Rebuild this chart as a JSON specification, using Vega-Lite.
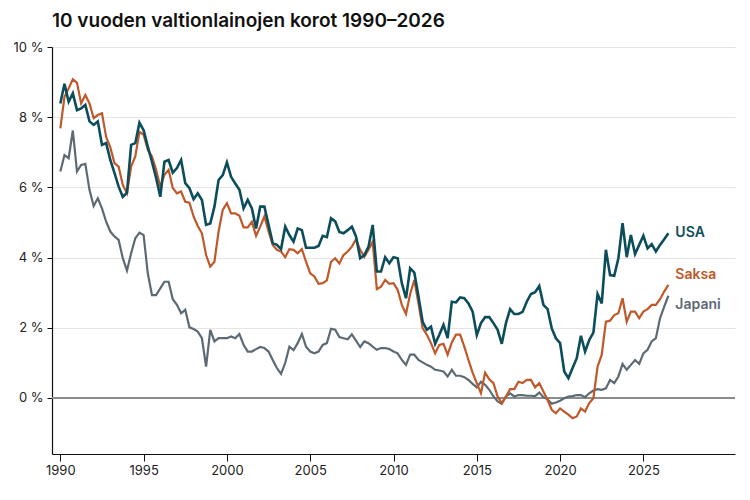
{
  "$schema": "https://vega.github.io/schema/vega-lite/v6.json",
  "description": "10 vuoden valtionlainojen korot, neljännesvuosittain: USA, Saksa ja Japani",
  "width": 683,
  "height": 407,
  "autosize": {"type": "none"},
  "padding": {"left": 52, "top": 47, "right": 15, "bottom": 46},
  "title": {
    "text": "10 vuoden valtionlainojen korot 1990–2026",
    "anchor": "start",
    "frame": "group",
    "font": "Inter",
    "fontSize": 19,
    "fontWeight": 600,
    "color": "#111111",
    "offset": 10
  },
  "config": {
    "view": {"stroke": null},
    "font": "Inter",
    "axis": {
      "labelFont": "Inter",
      "labelFontSize": 13,
      "labelColor": "#222222",
      "domainColor": "#111111",
      "domainWidth": 1.2,
      "tickColor": "#111111"
    }
  },
  "data": {
    "values": [
      {"maa": "USA", "vuosi": 1990, "korko": 8.39}, {"maa": "USA", "vuosi": 1990.25, "korko": 8.95}, {"maa": "USA", "vuosi": 1990.5, "korko": 8.44}, {"maa": "USA", "vuosi": 1990.75, "korko": 8.68},
      {"maa": "USA", "vuosi": 1991, "korko": 8.20}, {"maa": "USA", "vuosi": 1991.25, "korko": 8.25}, {"maa": "USA", "vuosi": 1991.5, "korko": 8.35}, {"maa": "USA", "vuosi": 1991.75, "korko": 7.88},
      {"maa": "USA", "vuosi": 1992, "korko": 7.78}, {"maa": "USA", "vuosi": 1992.25, "korko": 7.88}, {"maa": "USA", "vuosi": 1992.5, "korko": 7.21}, {"maa": "USA", "vuosi": 1992.75, "korko": 7.26},
      {"maa": "USA", "vuosi": 1993, "korko": 6.78}, {"maa": "USA", "vuosi": 1993.25, "korko": 6.41}, {"maa": "USA", "vuosi": 1993.5, "korko": 6.02}, {"maa": "USA", "vuosi": 1993.75, "korko": 5.73},
      {"maa": "USA", "vuosi": 1994, "korko": 5.85}, {"maa": "USA", "vuosi": 1994.25, "korko": 7.21}, {"maa": "USA", "vuosi": 1994.5, "korko": 7.26}, {"maa": "USA", "vuosi": 1994.75, "korko": 7.84},
      {"maa": "USA", "vuosi": 1995, "korko": 7.63}, {"maa": "USA", "vuosi": 1995.25, "korko": 7.16}, {"maa": "USA", "vuosi": 1995.5, "korko": 6.73}, {"maa": "USA", "vuosi": 1995.75, "korko": 6.27},
      {"maa": "USA", "vuosi": 1996, "korko": 5.73}, {"maa": "USA", "vuosi": 1996.25, "korko": 6.73}, {"maa": "USA", "vuosi": 1996.5, "korko": 6.78}, {"maa": "USA", "vuosi": 1996.75, "korko": 6.42},
      {"maa": "USA", "vuosi": 1997, "korko": 6.55}, {"maa": "USA", "vuosi": 1997.25, "korko": 6.78}, {"maa": "USA", "vuosi": 1997.5, "korko": 6.12}, {"maa": "USA", "vuosi": 1997.75, "korko": 5.98},
      {"maa": "USA", "vuosi": 1998, "korko": 5.66}, {"maa": "USA", "vuosi": 1998.25, "korko": 5.83}, {"maa": "USA", "vuosi": 1998.5, "korko": 5.64}, {"maa": "USA", "vuosi": 1998.75, "korko": 4.93},
      {"maa": "USA", "vuosi": 1999, "korko": 4.97}, {"maa": "USA", "vuosi": 1999.25, "korko": 5.45}, {"maa": "USA", "vuosi": 1999.5, "korko": 6.21}, {"maa": "USA", "vuosi": 1999.75, "korko": 6.35},
      {"maa": "USA", "vuosi": 2000, "korko": 6.71}, {"maa": "USA", "vuosi": 2000.25, "korko": 6.30}, {"maa": "USA", "vuosi": 2000.5, "korko": 6.11}, {"maa": "USA", "vuosi": 2000.75, "korko": 5.93},
      {"maa": "USA", "vuosi": 2001, "korko": 5.40}, {"maa": "USA", "vuosi": 2001.25, "korko": 5.64}, {"maa": "USA", "vuosi": 2001.5, "korko": 5.40}, {"maa": "USA", "vuosi": 2001.75, "korko": 4.83},
      {"maa": "USA", "vuosi": 2002, "korko": 5.45}, {"maa": "USA", "vuosi": 2002.25, "korko": 5.45}, {"maa": "USA", "vuosi": 2002.5, "korko": 4.93}, {"maa": "USA", "vuosi": 2002.75, "korko": 4.41},
      {"maa": "USA", "vuosi": 2003, "korko": 4.36}, {"maa": "USA", "vuosi": 2003.25, "korko": 4.24}, {"maa": "USA", "vuosi": 2003.5, "korko": 4.88}, {"maa": "USA", "vuosi": 2003.75, "korko": 4.64},
      {"maa": "USA", "vuosi": 2004, "korko": 4.45}, {"maa": "USA", "vuosi": 2004.25, "korko": 4.83}, {"maa": "USA", "vuosi": 2004.5, "korko": 4.78}, {"maa": "USA", "vuosi": 2004.75, "korko": 4.28},
      {"maa": "USA", "vuosi": 2005, "korko": 4.28}, {"maa": "USA", "vuosi": 2005.25, "korko": 4.28}, {"maa": "USA", "vuosi": 2005.5, "korko": 4.33}, {"maa": "USA", "vuosi": 2005.75, "korko": 4.62},
      {"maa": "USA", "vuosi": 2006, "korko": 4.58}, {"maa": "USA", "vuosi": 2006.25, "korko": 5.12}, {"maa": "USA", "vuosi": 2006.5, "korko": 5.03}, {"maa": "USA", "vuosi": 2006.75, "korko": 4.73},
      {"maa": "USA", "vuosi": 2007, "korko": 4.69}, {"maa": "USA", "vuosi": 2007.25, "korko": 4.78}, {"maa": "USA", "vuosi": 2007.5, "korko": 4.88}, {"maa": "USA", "vuosi": 2007.75, "korko": 4.60},
      {"maa": "USA", "vuosi": 2008, "korko": 3.98}, {"maa": "USA", "vuosi": 2008.25, "korko": 4.07}, {"maa": "USA", "vuosi": 2008.5, "korko": 4.31}, {"maa": "USA", "vuosi": 2008.75, "korko": 4.93},
      {"maa": "USA", "vuosi": 2009, "korko": 3.60}, {"maa": "USA", "vuosi": 2009.25, "korko": 3.60}, {"maa": "USA", "vuosi": 2009.5, "korko": 4.01}, {"maa": "USA", "vuosi": 2009.75, "korko": 3.84},
      {"maa": "USA", "vuosi": 2010, "korko": 4.01}, {"maa": "USA", "vuosi": 2010.25, "korko": 3.98}, {"maa": "USA", "vuosi": 2010.5, "korko": 3.27}, {"maa": "USA", "vuosi": 2010.75, "korko": 2.84},
      {"maa": "USA", "vuosi": 2011, "korko": 3.69}, {"maa": "USA", "vuosi": 2011.25, "korko": 3.57}, {"maa": "USA", "vuosi": 2011.5, "korko": 2.89}, {"maa": "USA", "vuosi": 2011.75, "korko": 2.17},
      {"maa": "USA", "vuosi": 2012, "korko": 1.94}, {"maa": "USA", "vuosi": 2012.25, "korko": 2.03}, {"maa": "USA", "vuosi": 2012.5, "korko": 1.54}, {"maa": "USA", "vuosi": 2012.75, "korko": 1.80},
      {"maa": "USA", "vuosi": 2013, "korko": 2.08}, {"maa": "USA", "vuosi": 2013.25, "korko": 1.70}, {"maa": "USA", "vuosi": 2013.5, "korko": 2.74}, {"maa": "USA", "vuosi": 2013.75, "korko": 2.72},
      {"maa": "USA", "vuosi": 2014, "korko": 2.86}, {"maa": "USA", "vuosi": 2014.25, "korko": 2.84}, {"maa": "USA", "vuosi": 2014.5, "korko": 2.69}, {"maa": "USA", "vuosi": 2014.75, "korko": 2.46},
      {"maa": "USA", "vuosi": 2015, "korko": 1.79}, {"maa": "USA", "vuosi": 2015.25, "korko": 2.13}, {"maa": "USA", "vuosi": 2015.5, "korko": 2.30}, {"maa": "USA", "vuosi": 2015.75, "korko": 2.30},
      {"maa": "USA", "vuosi": 2016, "korko": 2.13}, {"maa": "USA", "vuosi": 2016.25, "korko": 1.94}, {"maa": "USA", "vuosi": 2016.5, "korko": 1.54}, {"maa": "USA", "vuosi": 2016.75, "korko": 2.13},
      {"maa": "USA", "vuosi": 2017, "korko": 2.53}, {"maa": "USA", "vuosi": 2017.25, "korko": 2.39}, {"maa": "USA", "vuosi": 2017.5, "korko": 2.39}, {"maa": "USA", "vuosi": 2017.75, "korko": 2.45},
      {"maa": "USA", "vuosi": 2018, "korko": 2.74}, {"maa": "USA", "vuosi": 2018.25, "korko": 2.96}, {"maa": "USA", "vuosi": 2018.5, "korko": 3.01}, {"maa": "USA", "vuosi": 2018.75, "korko": 3.19},
      {"maa": "USA", "vuosi": 2019, "korko": 2.65}, {"maa": "USA", "vuosi": 2019.25, "korko": 2.53}, {"maa": "USA", "vuosi": 2019.5, "korko": 1.98}, {"maa": "USA", "vuosi": 2019.75, "korko": 1.70},
      {"maa": "USA", "vuosi": 2020, "korko": 1.56}, {"maa": "USA", "vuosi": 2020.25, "korko": 0.75}, {"maa": "USA", "vuosi": 2020.5, "korko": 0.56}, {"maa": "USA", "vuosi": 2020.75, "korko": 0.85},
      {"maa": "USA", "vuosi": 2021, "korko": 1.13}, {"maa": "USA", "vuosi": 2021.25, "korko": 1.77}, {"maa": "USA", "vuosi": 2021.5, "korko": 1.32}, {"maa": "USA", "vuosi": 2021.75, "korko": 1.65},
      {"maa": "USA", "vuosi": 2022, "korko": 1.86}, {"maa": "USA", "vuosi": 2022.25, "korko": 2.96}, {"maa": "USA", "vuosi": 2022.5, "korko": 2.69}, {"maa": "USA", "vuosi": 2022.75, "korko": 4.22},
      {"maa": "USA", "vuosi": 2023, "korko": 3.50}, {"maa": "USA", "vuosi": 2023.25, "korko": 3.48}, {"maa": "USA", "vuosi": 2023.5, "korko": 3.98}, {"maa": "USA", "vuosi": 2023.75, "korko": 4.98},
      {"maa": "USA", "vuosi": 2024, "korko": 4.01}, {"maa": "USA", "vuosi": 2024.25, "korko": 4.64}, {"maa": "USA", "vuosi": 2024.5, "korko": 4.10}, {"maa": "USA", "vuosi": 2024.75, "korko": 4.36},
      {"maa": "USA", "vuosi": 2025, "korko": 4.62}, {"maa": "USA", "vuosi": 2025.25, "korko": 4.26}, {"maa": "USA", "vuosi": 2025.5, "korko": 4.38}, {"maa": "USA", "vuosi": 2025.75, "korko": 4.17},
      {"maa": "USA", "vuosi": 2026, "korko": 4.36}, {"maa": "USA", "vuosi": 2026.25, "korko": 4.52}, {"maa": "USA", "vuosi": 2026.5, "korko": 4.69},

      {"maa": "Saksa", "vuosi": 1990, "korko": 7.68}, {"maa": "Saksa", "vuosi": 1990.25, "korko": 8.58}, {"maa": "Saksa", "vuosi": 1990.5, "korko": 8.82}, {"maa": "Saksa", "vuosi": 1990.75, "korko": 9.08},
      {"maa": "Saksa", "vuosi": 1991, "korko": 8.98}, {"maa": "Saksa", "vuosi": 1991.25, "korko": 8.39}, {"maa": "Saksa", "vuosi": 1991.5, "korko": 8.63}, {"maa": "Saksa", "vuosi": 1991.75, "korko": 8.39},
      {"maa": "Saksa", "vuosi": 1992, "korko": 7.97}, {"maa": "Saksa", "vuosi": 1992.25, "korko": 8.06}, {"maa": "Saksa", "vuosi": 1992.5, "korko": 8.11}, {"maa": "Saksa", "vuosi": 1992.75, "korko": 7.44},
      {"maa": "Saksa", "vuosi": 1993, "korko": 7.14}, {"maa": "Saksa", "vuosi": 1993.25, "korko": 6.69}, {"maa": "Saksa", "vuosi": 1993.5, "korko": 6.59}, {"maa": "Saksa", "vuosi": 1993.75, "korko": 6.07},
      {"maa": "Saksa", "vuosi": 1994, "korko": 5.83}, {"maa": "Saksa", "vuosi": 1994.25, "korko": 6.59}, {"maa": "Saksa", "vuosi": 1994.5, "korko": 6.88}, {"maa": "Saksa", "vuosi": 1994.75, "korko": 7.58},
      {"maa": "Saksa", "vuosi": 1995, "korko": 7.50}, {"maa": "Saksa", "vuosi": 1995.25, "korko": 7.07}, {"maa": "Saksa", "vuosi": 1995.5, "korko": 6.88}, {"maa": "Saksa", "vuosi": 1995.75, "korko": 6.50},
      {"maa": "Saksa", "vuosi": 1996, "korko": 6.02}, {"maa": "Saksa", "vuosi": 1996.25, "korko": 6.36}, {"maa": "Saksa", "vuosi": 1996.5, "korko": 6.50}, {"maa": "Saksa", "vuosi": 1996.75, "korko": 5.98},
      {"maa": "Saksa", "vuosi": 1997, "korko": 5.83}, {"maa": "Saksa", "vuosi": 1997.25, "korko": 5.88}, {"maa": "Saksa", "vuosi": 1997.5, "korko": 5.59}, {"maa": "Saksa", "vuosi": 1997.75, "korko": 5.56},
      {"maa": "Saksa", "vuosi": 1998, "korko": 5.17}, {"maa": "Saksa", "vuosi": 1998.25, "korko": 4.90}, {"maa": "Saksa", "vuosi": 1998.5, "korko": 4.69}, {"maa": "Saksa", "vuosi": 1998.75, "korko": 4.07},
      {"maa": "Saksa", "vuosi": 1999, "korko": 3.74}, {"maa": "Saksa", "vuosi": 1999.25, "korko": 3.88}, {"maa": "Saksa", "vuosi": 1999.5, "korko": 4.74}, {"maa": "Saksa", "vuosi": 1999.75, "korko": 5.36},
      {"maa": "Saksa", "vuosi": 2000, "korko": 5.55}, {"maa": "Saksa", "vuosi": 2000.25, "korko": 5.26}, {"maa": "Saksa", "vuosi": 2000.5, "korko": 5.26}, {"maa": "Saksa", "vuosi": 2000.75, "korko": 5.19},
      {"maa": "Saksa", "vuosi": 2001, "korko": 4.86}, {"maa": "Saksa", "vuosi": 2001.25, "korko": 4.86}, {"maa": "Saksa", "vuosi": 2001.5, "korko": 5.02}, {"maa": "Saksa", "vuosi": 2001.75, "korko": 4.62},
      {"maa": "Saksa", "vuosi": 2002, "korko": 4.88}, {"maa": "Saksa", "vuosi": 2002.25, "korko": 5.17}, {"maa": "Saksa", "vuosi": 2002.5, "korko": 4.74}, {"maa": "Saksa", "vuosi": 2002.75, "korko": 4.36},
      {"maa": "Saksa", "vuosi": 2003, "korko": 4.22}, {"maa": "Saksa", "vuosi": 2003.25, "korko": 4.17}, {"maa": "Saksa", "vuosi": 2003.5, "korko": 4.01}, {"maa": "Saksa", "vuosi": 2003.75, "korko": 4.24},
      {"maa": "Saksa", "vuosi": 2004, "korko": 4.22}, {"maa": "Saksa", "vuosi": 2004.25, "korko": 4.12}, {"maa": "Saksa", "vuosi": 2004.5, "korko": 4.24}, {"maa": "Saksa", "vuosi": 2004.75, "korko": 3.88},
      {"maa": "Saksa", "vuosi": 2005, "korko": 3.55}, {"maa": "Saksa", "vuosi": 2005.25, "korko": 3.46}, {"maa": "Saksa", "vuosi": 2005.5, "korko": 3.25}, {"maa": "Saksa", "vuosi": 2005.75, "korko": 3.27},
      {"maa": "Saksa", "vuosi": 2006, "korko": 3.35}, {"maa": "Saksa", "vuosi": 2006.25, "korko": 3.88}, {"maa": "Saksa", "vuosi": 2006.5, "korko": 3.98}, {"maa": "Saksa", "vuosi": 2006.75, "korko": 3.83},
      {"maa": "Saksa", "vuosi": 2007, "korko": 4.07}, {"maa": "Saksa", "vuosi": 2007.25, "korko": 4.17}, {"maa": "Saksa", "vuosi": 2007.5, "korko": 4.31}, {"maa": "Saksa", "vuosi": 2007.75, "korko": 4.52},
      {"maa": "Saksa", "vuosi": 2008, "korko": 4.22}, {"maa": "Saksa", "vuosi": 2008.25, "korko": 4.02}, {"maa": "Saksa", "vuosi": 2008.5, "korko": 4.22}, {"maa": "Saksa", "vuosi": 2008.75, "korko": 4.45},
      {"maa": "Saksa", "vuosi": 2009, "korko": 3.10}, {"maa": "Saksa", "vuosi": 2009.25, "korko": 3.17}, {"maa": "Saksa", "vuosi": 2009.5, "korko": 3.36}, {"maa": "Saksa", "vuosi": 2009.75, "korko": 3.25},
      {"maa": "Saksa", "vuosi": 2010, "korko": 3.27}, {"maa": "Saksa", "vuosi": 2010.25, "korko": 3.08}, {"maa": "Saksa", "vuosi": 2010.5, "korko": 2.65}, {"maa": "Saksa", "vuosi": 2010.75, "korko": 2.39},
      {"maa": "Saksa", "vuosi": 2011, "korko": 2.96}, {"maa": "Saksa", "vuosi": 2011.25, "korko": 3.36}, {"maa": "Saksa", "vuosi": 2011.5, "korko": 2.69}, {"maa": "Saksa", "vuosi": 2011.75, "korko": 1.98},
      {"maa": "Saksa", "vuosi": 2012, "korko": 1.80}, {"maa": "Saksa", "vuosi": 2012.25, "korko": 1.56}, {"maa": "Saksa", "vuosi": 2012.5, "korko": 1.27}, {"maa": "Saksa", "vuosi": 2012.75, "korko": 1.51},
      {"maa": "Saksa", "vuosi": 2013, "korko": 1.54}, {"maa": "Saksa", "vuosi": 2013.25, "korko": 1.23}, {"maa": "Saksa", "vuosi": 2013.5, "korko": 1.58}, {"maa": "Saksa", "vuosi": 2013.75, "korko": 1.80},
      {"maa": "Saksa", "vuosi": 2014, "korko": 1.80}, {"maa": "Saksa", "vuosi": 2014.25, "korko": 1.46}, {"maa": "Saksa", "vuosi": 2014.5, "korko": 1.08}, {"maa": "Saksa", "vuosi": 2014.75, "korko": 0.72},
      {"maa": "Saksa", "vuosi": 2015, "korko": 0.42}, {"maa": "Saksa", "vuosi": 2015.25, "korko": 0.13}, {"maa": "Saksa", "vuosi": 2015.5, "korko": 0.72}, {"maa": "Saksa", "vuosi": 2015.75, "korko": 0.53},
      {"maa": "Saksa", "vuosi": 2016, "korko": 0.42}, {"maa": "Saksa", "vuosi": 2016.25, "korko": 0.04}, {"maa": "Saksa", "vuosi": 2016.5, "korko": -0.15}, {"maa": "Saksa", "vuosi": 2016.75, "korko": 0.04},
      {"maa": "Saksa", "vuosi": 2017, "korko": 0.25}, {"maa": "Saksa", "vuosi": 2017.25, "korko": 0.25}, {"maa": "Saksa", "vuosi": 2017.5, "korko": 0.46}, {"maa": "Saksa", "vuosi": 2017.75, "korko": 0.42},
      {"maa": "Saksa", "vuosi": 2018, "korko": 0.51}, {"maa": "Saksa", "vuosi": 2018.25, "korko": 0.51}, {"maa": "Saksa", "vuosi": 2018.5, "korko": 0.30}, {"maa": "Saksa", "vuosi": 2018.75, "korko": 0.42},
      {"maa": "Saksa", "vuosi": 2019, "korko": 0.18}, {"maa": "Saksa", "vuosi": 2019.25, "korko": -0.06}, {"maa": "Saksa", "vuosi": 2019.5, "korko": -0.34}, {"maa": "Saksa", "vuosi": 2019.75, "korko": -0.44},
      {"maa": "Saksa", "vuosi": 2020, "korko": -0.30}, {"maa": "Saksa", "vuosi": 2020.25, "korko": -0.39}, {"maa": "Saksa", "vuosi": 2020.5, "korko": -0.48}, {"maa": "Saksa", "vuosi": 2020.75, "korko": -0.58},
      {"maa": "Saksa", "vuosi": 2021, "korko": -0.53}, {"maa": "Saksa", "vuosi": 2021.25, "korko": -0.30}, {"maa": "Saksa", "vuosi": 2021.5, "korko": -0.39}, {"maa": "Saksa", "vuosi": 2021.75, "korko": -0.15},
      {"maa": "Saksa", "vuosi": 2022, "korko": -0.01}, {"maa": "Saksa", "vuosi": 2022.25, "korko": 0.89}, {"maa": "Saksa", "vuosi": 2022.5, "korko": 1.23}, {"maa": "Saksa", "vuosi": 2022.75, "korko": 2.17},
      {"maa": "Saksa", "vuosi": 2023, "korko": 2.20}, {"maa": "Saksa", "vuosi": 2023.25, "korko": 2.36}, {"maa": "Saksa", "vuosi": 2023.5, "korko": 2.41}, {"maa": "Saksa", "vuosi": 2023.75, "korko": 2.84},
      {"maa": "Saksa", "vuosi": 2024, "korko": 2.17}, {"maa": "Saksa", "vuosi": 2024.25, "korko": 2.46}, {"maa": "Saksa", "vuosi": 2024.5, "korko": 2.46}, {"maa": "Saksa", "vuosi": 2024.75, "korko": 2.27},
      {"maa": "Saksa", "vuosi": 2025, "korko": 2.46}, {"maa": "Saksa", "vuosi": 2025.25, "korko": 2.53}, {"maa": "Saksa", "vuosi": 2025.5, "korko": 2.65}, {"maa": "Saksa", "vuosi": 2025.75, "korko": 2.65},
      {"maa": "Saksa", "vuosi": 2026, "korko": 2.81}, {"maa": "Saksa", "vuosi": 2026.25, "korko": 3.03}, {"maa": "Saksa", "vuosi": 2026.5, "korko": 3.22},

      {"maa": "Japani", "vuosi": 1990, "korko": 6.45}, {"maa": "Japani", "vuosi": 1990.25, "korko": 6.92}, {"maa": "Japani", "vuosi": 1990.5, "korko": 6.83}, {"maa": "Japani", "vuosi": 1990.75, "korko": 7.62},
      {"maa": "Japani", "vuosi": 1991, "korko": 6.45}, {"maa": "Japani", "vuosi": 1991.25, "korko": 6.64}, {"maa": "Japani", "vuosi": 1991.5, "korko": 6.67}, {"maa": "Japani", "vuosi": 1991.75, "korko": 5.93},
      {"maa": "Japani", "vuosi": 1992, "korko": 5.47}, {"maa": "Japani", "vuosi": 1992.25, "korko": 5.69}, {"maa": "Japani", "vuosi": 1992.5, "korko": 5.40}, {"maa": "Japani", "vuosi": 1992.75, "korko": 5.02},
      {"maa": "Japani", "vuosi": 1993, "korko": 4.74}, {"maa": "Japani", "vuosi": 1993.25, "korko": 4.60}, {"maa": "Japani", "vuosi": 1993.5, "korko": 4.50}, {"maa": "Japani", "vuosi": 1993.75, "korko": 3.98},
      {"maa": "Japani", "vuosi": 1994, "korko": 3.63}, {"maa": "Japani", "vuosi": 1994.25, "korko": 4.12}, {"maa": "Japani", "vuosi": 1994.5, "korko": 4.55}, {"maa": "Japani", "vuosi": 1994.75, "korko": 4.71},
      {"maa": "Japani", "vuosi": 1995, "korko": 4.64}, {"maa": "Japani", "vuosi": 1995.25, "korko": 3.55}, {"maa": "Japani", "vuosi": 1995.5, "korko": 2.93}, {"maa": "Japani", "vuosi": 1995.75, "korko": 2.93},
      {"maa": "Japani", "vuosi": 1996, "korko": 3.12}, {"maa": "Japani", "vuosi": 1996.25, "korko": 3.31}, {"maa": "Japani", "vuosi": 1996.5, "korko": 3.31}, {"maa": "Japani", "vuosi": 1996.75, "korko": 2.81},
      {"maa": "Japani", "vuosi": 1997, "korko": 2.65}, {"maa": "Japani", "vuosi": 1997.25, "korko": 2.41}, {"maa": "Japani", "vuosi": 1997.5, "korko": 2.51}, {"maa": "Japani", "vuosi": 1997.75, "korko": 2.01},
      {"maa": "Japani", "vuosi": 1998, "korko": 1.96}, {"maa": "Japani", "vuosi": 1998.25, "korko": 1.89}, {"maa": "Japani", "vuosi": 1998.5, "korko": 1.70}, {"maa": "Japani", "vuosi": 1998.75, "korko": 0.89},
      {"maa": "Japani", "vuosi": 1999, "korko": 1.94}, {"maa": "Japani", "vuosi": 1999.25, "korko": 1.61}, {"maa": "Japani", "vuosi": 1999.5, "korko": 1.70}, {"maa": "Japani", "vuosi": 1999.75, "korko": 1.70},
      {"maa": "Japani", "vuosi": 2000, "korko": 1.70}, {"maa": "Japani", "vuosi": 2000.25, "korko": 1.75}, {"maa": "Japani", "vuosi": 2000.5, "korko": 1.70}, {"maa": "Japani", "vuosi": 2000.75, "korko": 1.82},
      {"maa": "Japani", "vuosi": 2001, "korko": 1.51}, {"maa": "Japani", "vuosi": 2001.25, "korko": 1.32}, {"maa": "Japani", "vuosi": 2001.5, "korko": 1.32}, {"maa": "Japani", "vuosi": 2001.75, "korko": 1.39},
      {"maa": "Japani", "vuosi": 2002, "korko": 1.45}, {"maa": "Japani", "vuosi": 2002.25, "korko": 1.42}, {"maa": "Japani", "vuosi": 2002.5, "korko": 1.32}, {"maa": "Japani", "vuosi": 2002.75, "korko": 1.08},
      {"maa": "Japani", "vuosi": 2003, "korko": 0.85}, {"maa": "Japani", "vuosi": 2003.25, "korko": 0.68}, {"maa": "Japani", "vuosi": 2003.5, "korko": 1.00}, {"maa": "Japani", "vuosi": 2003.75, "korko": 1.46},
      {"maa": "Japani", "vuosi": 2004, "korko": 1.36}, {"maa": "Japani", "vuosi": 2004.25, "korko": 1.56}, {"maa": "Japani", "vuosi": 2004.5, "korko": 1.82}, {"maa": "Japani", "vuosi": 2004.75, "korko": 1.46},
      {"maa": "Japani", "vuosi": 2005, "korko": 1.32}, {"maa": "Japani", "vuosi": 2005.25, "korko": 1.27}, {"maa": "Japani", "vuosi": 2005.5, "korko": 1.32}, {"maa": "Japani", "vuosi": 2005.75, "korko": 1.51},
      {"maa": "Japani", "vuosi": 2006, "korko": 1.56}, {"maa": "Japani", "vuosi": 2006.25, "korko": 1.97}, {"maa": "Japani", "vuosi": 2006.5, "korko": 1.94}, {"maa": "Japani", "vuosi": 2006.75, "korko": 1.73},
      {"maa": "Japani", "vuosi": 2007, "korko": 1.70}, {"maa": "Japani", "vuosi": 2007.25, "korko": 1.67}, {"maa": "Japani", "vuosi": 2007.5, "korko": 1.81}, {"maa": "Japani", "vuosi": 2007.75, "korko": 1.63},
      {"maa": "Japani", "vuosi": 2008, "korko": 1.45}, {"maa": "Japani", "vuosi": 2008.25, "korko": 1.61}, {"maa": "Japani", "vuosi": 2008.5, "korko": 1.56}, {"maa": "Japani", "vuosi": 2008.75, "korko": 1.46},
      {"maa": "Japani", "vuosi": 2009, "korko": 1.37}, {"maa": "Japani", "vuosi": 2009.25, "korko": 1.42}, {"maa": "Japani", "vuosi": 2009.5, "korko": 1.42}, {"maa": "Japani", "vuosi": 2009.75, "korko": 1.39},
      {"maa": "Japani", "vuosi": 2010, "korko": 1.32}, {"maa": "Japani", "vuosi": 2010.25, "korko": 1.27}, {"maa": "Japani", "vuosi": 2010.5, "korko": 1.08}, {"maa": "Japani", "vuosi": 2010.75, "korko": 0.94},
      {"maa": "Japani", "vuosi": 2011, "korko": 1.23}, {"maa": "Japani", "vuosi": 2011.25, "korko": 1.23}, {"maa": "Japani", "vuosi": 2011.5, "korko": 1.08}, {"maa": "Japani", "vuosi": 2011.75, "korko": 1.01},
      {"maa": "Japani", "vuosi": 2012, "korko": 0.94}, {"maa": "Japani", "vuosi": 2012.25, "korko": 0.89}, {"maa": "Japani", "vuosi": 2012.5, "korko": 0.80}, {"maa": "Japani", "vuosi": 2012.75, "korko": 0.78},
      {"maa": "Japani", "vuosi": 2013, "korko": 0.75}, {"maa": "Japani", "vuosi": 2013.25, "korko": 0.61}, {"maa": "Japani", "vuosi": 2013.5, "korko": 0.80}, {"maa": "Japani", "vuosi": 2013.75, "korko": 0.63},
      {"maa": "Japani", "vuosi": 2014, "korko": 0.63}, {"maa": "Japani", "vuosi": 2014.25, "korko": 0.59}, {"maa": "Japani", "vuosi": 2014.5, "korko": 0.51}, {"maa": "Japani", "vuosi": 2014.75, "korko": 0.40},
      {"maa": "Japani", "vuosi": 2015, "korko": 0.30}, {"maa": "Japani", "vuosi": 2015.25, "korko": 0.46}, {"maa": "Japani", "vuosi": 2015.5, "korko": 0.37}, {"maa": "Japani", "vuosi": 2015.75, "korko": 0.23},
      {"maa": "Japani", "vuosi": 2016, "korko": 0.04}, {"maa": "Japani", "vuosi": 2016.25, "korko": -0.10}, {"maa": "Japani", "vuosi": 2016.5, "korko": -0.17}, {"maa": "Japani", "vuosi": 2016.75, "korko": 0.04},
      {"maa": "Japani", "vuosi": 2017, "korko": 0.13}, {"maa": "Japani", "vuosi": 2017.25, "korko": 0.04}, {"maa": "Japani", "vuosi": 2017.5, "korko": 0.08}, {"maa": "Japani", "vuosi": 2017.75, "korko": 0.08},
      {"maa": "Japani", "vuosi": 2018, "korko": 0.06}, {"maa": "Japani", "vuosi": 2018.25, "korko": 0.06}, {"maa": "Japani", "vuosi": 2018.5, "korko": 0.05}, {"maa": "Japani", "vuosi": 2018.75, "korko": 0.15},
      {"maa": "Japani", "vuosi": 2019, "korko": 0.02}, {"maa": "Japani", "vuosi": 2019.25, "korko": -0.04}, {"maa": "Japani", "vuosi": 2019.5, "korko": -0.17}, {"maa": "Japani", "vuosi": 2019.75, "korko": -0.13},
      {"maa": "Japani", "vuosi": 2020, "korko": -0.08}, {"maa": "Japani", "vuosi": 2020.25, "korko": -0.01}, {"maa": "Japani", "vuosi": 2020.5, "korko": 0.04}, {"maa": "Japani", "vuosi": 2020.75, "korko": 0.05},
      {"maa": "Japani", "vuosi": 2021, "korko": 0.08}, {"maa": "Japani", "vuosi": 2021.25, "korko": 0.08}, {"maa": "Japani", "vuosi": 2021.5, "korko": 0.02}, {"maa": "Japani", "vuosi": 2021.75, "korko": 0.13},
      {"maa": "Japani", "vuosi": 2022, "korko": 0.21}, {"maa": "Japani", "vuosi": 2022.25, "korko": 0.25}, {"maa": "Japani", "vuosi": 2022.5, "korko": 0.23}, {"maa": "Japani", "vuosi": 2022.75, "korko": 0.27},
      {"maa": "Japani", "vuosi": 2023, "korko": 0.51}, {"maa": "Japani", "vuosi": 2023.25, "korko": 0.42}, {"maa": "Japani", "vuosi": 2023.5, "korko": 0.61}, {"maa": "Japani", "vuosi": 2023.75, "korko": 0.97},
      {"maa": "Japani", "vuosi": 2024, "korko": 0.80}, {"maa": "Japani", "vuosi": 2024.25, "korko": 0.94}, {"maa": "Japani", "vuosi": 2024.5, "korko": 1.08}, {"maa": "Japani", "vuosi": 2024.75, "korko": 0.97},
      {"maa": "Japani", "vuosi": 2025, "korko": 1.27}, {"maa": "Japani", "vuosi": 2025.25, "korko": 1.37}, {"maa": "Japani", "vuosi": 2025.5, "korko": 1.61}, {"maa": "Japani", "vuosi": 2025.75, "korko": 1.70},
      {"maa": "Japani", "vuosi": 2026, "korko": 2.27}, {"maa": "Japani", "vuosi": 2026.25, "korko": 2.60}, {"maa": "Japani", "vuosi": 2026.5, "korko": 2.91}
    ]
  },
  "encoding": {
    "x": {
      "field": "vuosi",
      "type": "quantitative",
      "scale": {"domain": [1989.5, 2030.5], "nice": false, "zero": false},
      "axis": {
        "values": [1990, 1995, 2000, 2005, 2010, 2015, 2020, 2025],
        "format": "d",
        "title": null,
        "grid": false,
        "tickSize": 7,
        "labelPadding": 3
      }
    },
    "y": {
      "field": "korko",
      "type": "quantitative",
      "scale": {"domain": [-1.6, 10], "nice": false, "zero": false},
      "axis": {
        "values": [0, 2, 4, 6, 8, 10],
        "labelExpr": "datum.value + ' %'",
        "title": null,
        "grid": true,
        "gridColor": "#e4e4e4",
        "tickSize": 5,
        "labelPadding": 4
      }
    }
  },
  "layer": [
    {
      "mark": {"type": "rule", "color": "#8c8c8c", "strokeWidth": 1.2},
      "encoding": {"x": {"value": 0}, "x2": {"value": 683}, "y": {"datum": 0}}
    },
    {
      "transform": [{"filter": "datum.maa == 'Japani'"}],
      "mark": {"type": "line", "color": "#5c6a74", "strokeWidth": 2.2}
    },
    {
      "transform": [{"filter": "datum.maa == 'Saksa'"}],
      "mark": {"type": "line", "color": "#c0582a", "strokeWidth": 2.2}
    },
    {
      "transform": [{"filter": "datum.maa == 'USA'"}],
      "mark": {"type": "line", "color": "#0c4d5b", "strokeWidth": 2.6}
    },
    {
      "transform": [{"filter": "datum.maa == 'USA' && datum.vuosi == 2026.5"}],
      "mark": {"type": "text", "align": "left", "baseline": "middle", "dx": 7, "dy": 0, "font": "Inter", "fontSize": 14, "fontWeight": 600, "color": "#0c4d5b"},
      "encoding": {"text": {"field": "maa"}}
    },
    {
      "transform": [{"filter": "datum.maa == 'Saksa' && datum.vuosi == 2026.5"}],
      "mark": {"type": "text", "align": "left", "baseline": "middle", "dx": 7, "dy": -10, "font": "Inter", "fontSize": 14, "fontWeight": 600, "color": "#c0582a"},
      "encoding": {"text": {"field": "maa"}}
    },
    {
      "transform": [{"filter": "datum.maa == 'Japani' && datum.vuosi == 2026.5"}],
      "mark": {"type": "text", "align": "left", "baseline": "middle", "dx": 7, "dy": 9, "font": "Inter", "fontSize": 14, "fontWeight": 600, "color": "#5c6a74"},
      "encoding": {"text": {"field": "maa"}}
    }
  ]
}
